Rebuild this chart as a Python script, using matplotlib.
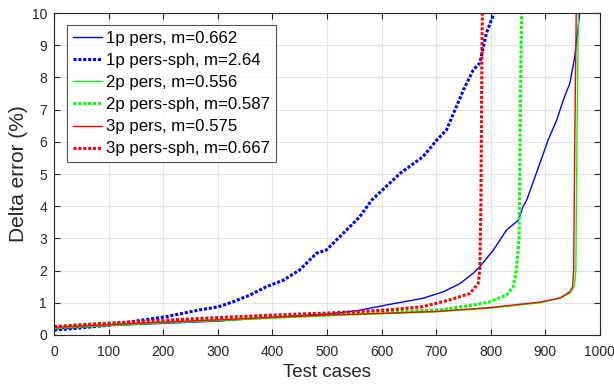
import numpy as np
import matplotlib
matplotlib.use('Agg')
import matplotlib.pyplot as plt

plt.rcParams['font.family'] = ['Liberation Sans', 'DejaVu Sans']

# 1p pers (blue, solid)
p1_x = [0, 50, 100, 200, 300, 400, 450, 500, 554, 615, 676, 713, 744, 768, 780, 805,
        829, 851, 859, 866, 890, 905, 921, 933, 945, 954, 963, 975]
p1_y = [0.18, 0.24, 0.29, 0.36, 0.43, 0.55, 0.6, 0.65, 0.75, 0.95, 1.14, 1.34, 1.6, 1.92,
        2.12, 2.64, 3.26, 3.57, 3.98, 4.19, 5.33, 6.05, 6.68, 7.3, 7.82, 8.64, 10.0, 12.0]
# 1p pers-sph (blue, dotted)
p1s_x = [0, 50, 100, 145, 206, 267, 300, 328, 359, 389, 420, 450, 481, 499, 530, 560,
         582, 634, 676, 701, 719, 737, 750, 768, 780, 792, 807, 815]
p1s_y = [0.15, 0.22, 0.3, 0.42, 0.57, 0.78, 0.87, 1.03, 1.24, 1.5, 1.7, 2.02, 2.54, 2.64,
         3.16, 3.67, 4.19, 5.02, 5.54, 6.05, 6.37, 7.09, 7.61, 8.23, 8.45, 9.37, 10.04, 11]
# 2p pers (green, solid)
p2_x = [0, 100, 200, 300, 432, 500, 600, 700, 798, 890, 927, 945, 953, 956, 958, 962]
p2_y = [0.22, 0.3, 0.38, 0.45, 0.55, 0.6, 0.66, 0.72, 0.83, 1.0, 1.14, 1.3, 1.5, 2.0, 6.0, 12]
# 2p pers-sph (green, dotted)
p2s_x = [0, 100, 200, 300, 432, 500, 615, 707, 768, 798, 829, 841, 847, 852, 855, 858]
p2s_y = [0.22, 0.32, 0.4, 0.47, 0.57, 0.62, 0.72, 0.78, 0.93, 1.03, 1.24, 1.5, 2.0, 3.0, 8, 12]
# 3p pers (red, solid)
p3_x = [0, 100, 200, 300, 432, 500, 600, 700, 798, 890, 927, 945, 950, 952, 954, 958]
p3_y = [0.24, 0.32, 0.4, 0.47, 0.57, 0.62, 0.67, 0.73, 0.85, 1.02, 1.15, 1.34, 1.5, 2.0, 6, 12]
# 3p pers-sph (red, dotted)
p3s_x = [0, 50, 145, 298, 432, 500, 615, 676, 725, 762, 777, 780, 782, 784, 786]
p3s_y = [0.26, 0.32, 0.41, 0.54, 0.64, 0.68, 0.78, 0.88, 1.09, 1.29, 1.6, 2.0, 4, 9, 12]

labels = ['1p pers, m=0.662', '1p pers-sph, m=2.64', '2p pers, m=0.556',
          '2p pers-sph, m=0.587', '3p pers, m=0.575', '3p pers-sph, m=0.667']

fig = plt.figure(figsize=(6.14, 3.85), dpi=100)
ax = fig.add_axes([0.088, 0.13, 0.889, 0.836])

dot = (0, (1, 0.6))
ax.plot(p1_x, p1_y, color='#0000ff', lw=1.0, label=labels[0])
ax.plot(p1s_x, p1s_y, color='#0000ff', lw=2.2, ls=dot, label=labels[1])
ax.plot(p2_x, p2_y, color='#00ff00', lw=1.0, label=labels[2])
ax.plot(p2s_x, p2s_y, color='#00ff00', lw=2.2, ls=dot, label=labels[3])
ax.plot(p3_x, p3_y, color='#ff0000', lw=1.0, label=labels[4])
ax.plot(p3s_x, p3s_y, color='#ff0000', lw=2.2, ls=dot, label=labels[5])

ax.set_xlim(0, 1000)
ax.set_ylim(0, 10)
ax.set_xticks(np.arange(0, 1001, 100))
ax.set_yticks(np.arange(0, 11, 1))
ax.grid(True, color='#e3e3e3', lw=0.8)
ax.set_axisbelow(True)
ax.tick_params(direction='in', top=True, right=True, length=4, width=0.8,
               colors='#262626', labelsize=10)
ax.tick_params(axis='x', pad=7)
ax.tick_params(axis='y', pad=5)
for s in ax.spines.values():
    s.set_color('#262626')
    s.set_linewidth(0.8)

ax.set_xlabel('Test cases', fontsize=13.5, color='#262626', labelpad=4)
ax.set_ylabel('Delta error (%)', fontsize=15, color='#262626', labelpad=3)

lgd = ax.legend(loc='upper left', bbox_to_anchor=(0.024, 0.962), fontsize=12.1,
                frameon=True, fancybox=False, handlelength=1.75, handletextpad=0.2,
                labelspacing=0.42, borderpad=0.35, borderaxespad=0)
lgd.get_frame().set_edgecolor('#262626')
lgd.get_frame().set_linewidth(0.8)

fig.savefig('out.png', dpi=100)
